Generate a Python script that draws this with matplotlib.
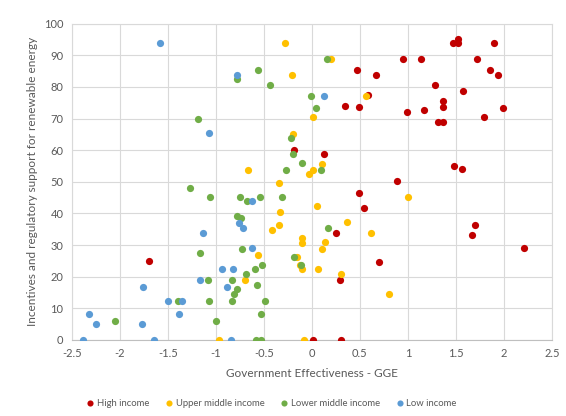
import matplotlib.pyplot as plt

plt.rcParams['font.family'] = ['Lato', 'DejaVu Sans']

# Government effectiveness (x) vs support for renewables (y) per income group
high_x = [-1.70, 0.475, 0.58, 0.34, 0.49, -0.184, 0.128, 0.486, 0.538, 0.253, 0.295, 0.017, 0.30,
          1.52, 1.472, 1.524, 1.899, 0.948, 1.139, 1.72, 1.854, 1.94, 0.67, 1.285, 1.576, 1.368,
          1.365, 1.996, 0.996, 1.163, 1.79, 1.319, 1.371, 1.482, 1.566, 0.888, 1.70, 1.663, 2.208, 0.698]
high_y = [25.0, 85.4, 77.5, 74.1, 73.7, 60.1, 58.7, 46.6, 41.6, 33.7, 18.8, 0, 0,
          95.1, 93.9, 93.9, 93.9, 88.8, 88.8, 88.8, 85.4, 83.9, 83.9, 80.5, 78.8, 75.5,
          73.7, 73.4, 72.2, 72.6, 70.4, 68.8, 68.8, 55.1, 54.2, 50.3, 36.2, 33.3, 29.1, 24.6]

upper_x = [-0.281, 0.20, -0.208, 0.562, 0.013, -0.198, 0.11, -0.67, -0.035, 0.017, -0.34, 1.006,
           0.055, -0.33, -0.344, -0.417, 0.368, 0.62, -0.098, -0.098, 0.135, 0.104, -0.556, -0.15,
           -0.128, -0.098, 0.06, 0.302, -0.698, 0.805, -0.97, -0.087]
upper_y = [93.9, 88.8, 83.9, 77.1, 70.4, 65.0, 55.5, 53.7, 52.5, 53.7, 49.6, 45.3,
           42.5, 40.4, 36.2, 34.9, 37.4, 33.7, 32.1, 30.7, 30.8, 28.7, 27.0, 26.1,
           23.7, 22.5, 22.5, 20.8, 18.8, 14.4, 0, 0]

lower_x = [-1.19, -1.27, -1.056, -1.17, -1.08, -1.396, -1.067, -2.049, -0.994, 0.159, -0.78, -0.556,
           -0.44, -0.004, 0.042, -0.219, -0.2, -0.098, -0.268, 0.094, -0.747, -0.542, -0.313, -0.68,
           -0.785, -0.74, 0.173, -0.733, -0.189, -0.11, -0.59, -0.52, -0.687, -0.833, -0.573, -0.775,
           -0.81, -0.833, -0.49, -0.525, -0.58, -0.53]
lower_y = [70.0, 48.1, 45.3, 27.4, 18.8, 12.4, 12.4, 6.1, 6.1, 88.8, 82.5, 85.4,
           80.5, 77.1, 73.4, 63.7, 58.7, 55.9, 53.7, 53.7, 45.3, 45.3, 45.3, 43.8,
           39.1, 38.7, 35.3, 28.7, 26.1, 23.7, 22.5, 23.6, 20.8, 18.8, 17.4, 16.2,
           14.4, 12.4, 12.4, 8.2, 0, 0]

low_x = [-1.58, -1.07, -1.136, -0.94, -1.17, -1.754, -0.88, -1.5, -1.35, -2.317, -1.379, -2.25,
         -1.77, -2.382, -1.64, -0.838, -0.78, 0.125, -0.622, -0.754, -0.719, -0.625, -0.817]
low_y = [94.0, 65.4, 33.7, 22.5, 18.8, 16.6, 16.6, 12.4, 12.4, 8.2, 8.2, 4.9,
         4.9, 0, 0, 0, 83.9, 77.1, 43.8, 37.0, 35.3, 29.1, 22.5]

series = [
    ('High income', high_x, high_y, '#C00000'),
    ('Upper middle income', upper_x, upper_y, '#FFC000'),
    ('Lower middle income', lower_x, lower_y, '#70AD47'),
    ('Low income', low_x, low_y, '#5B9BD5'),
]

fig = plt.figure(figsize=(5.66, 4.16), dpi=100)
ax = fig.add_axes([0.127, 0.183, 0.848, 0.76])

for name, xs, ys, col in series:
    ax.scatter(xs, ys, s=27, color=col, label=name, zorder=3, linewidths=0)

ax.set_xlim(-2.5, 2.5)
ax.set_ylim(0, 100)
ax.set_xticks([-2.5, -2, -1.5, -1, -0.5, 0, 0.5, 1, 1.5, 2, 2.5])
ax.set_xticklabels(['-2.5', '-2', '-1.5', '-1', '-0.5', '0', '0.5', '1', '1.5', '2', '2.5'])
ax.set_yticks(range(0, 101, 10))
ax.grid(True, color='#D9D9D9', linewidth=0.8, zorder=0)
ax.set_axisbelow(True)
for side in ['top', 'right', 'left']:
    ax.spines[side].set_color('#D9D9D9')
ax.spines['bottom'].set_color('#BFBFBF')
ax.tick_params(length=0, labelsize=8, colors='#595959', pad=6)

ax.set_xlabel('Government Effectiveness - GGE', fontsize=8.5, color='#595959', labelpad=6)
ax.set_ylabel('Incentives and regulatory support for renewable energy', fontsize=8.5,
              color='#595959', labelpad=4)

# legend sits under the plot, centred on the whole figure
fig.legend(loc='center', bbox_to_anchor=(0.479, 0.031), ncol=4, frameon=False,
           fontsize=6.8, labelcolor='#595959', handletextpad=0.2, handlelength=1.0,
           columnspacing=1.6, markerscale=0.85)

plt.savefig('out.png', dpi=100)
